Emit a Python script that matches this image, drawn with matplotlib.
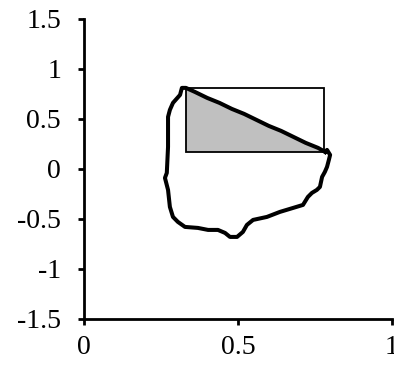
import numpy as np
import matplotlib.pyplot as plt
from matplotlib.patches import Rectangle, Polygon

# outline (closed loop, starts at lower right of the box)
outline_x = [0.783, 0.760, 0.720, 0.680, 0.640, 0.600, 0.560, 0.520, 0.480, 0.440,
             0.400, 0.360, 0.331, 0.318, 0.312, 0.289, 0.279, 0.273, 0.273, 0.269,
             0.263, 0.273, 0.279, 0.289, 0.305, 0.328, 0.370, 0.403, 0.435, 0.458,
             0.474, 0.497, 0.516, 0.529, 0.549, 0.594, 0.636, 0.679, 0.711, 0.727,
             0.740, 0.756, 0.766, 0.773, 0.782, 0.789, 0.795, 0.799, 0.789, 0.783]
outline_y = [0.17, 0.21, 0.26, 0.32, 0.38, 0.43, 0.49, 0.55, 0.60, 0.66,
             0.71, 0.77, 0.81, 0.81, 0.74, 0.66, 0.59, 0.52, 0.22, -0.04,
             -0.09, -0.21, -0.38, -0.48, -0.53, -0.58, -0.59, -0.61, -0.61, -0.64,
             -0.68, -0.68, -0.63, -0.56, -0.51, -0.48, -0.43, -0.39, -0.36, -0.28,
             -0.24, -0.21, -0.18, -0.08, -0.03, 0.02, 0.09, 0.14, 0.19, 0.17]

# bounding box and triangle
box_x0, box_x1 = 0.331, 0.779
box_y0, box_y1 = 0.17, 0.81
tri_x = [box_x0, box_x0, 0.783]
tri_y = [box_y1, box_y0, box_y0]

x_ticks = [0, 0.5, 1]
y_ticks = [-1.5, -1, -0.5, 0, 0.5, 1, 1.5]

plt.rcParams['font.family'] = ['Liberation Serif', 'DejaVu Serif']

fig = plt.figure(figsize=(3.94, 3.70), dpi=100)
ax = fig.add_axes([0.213, 0.138, 0.782, 0.811])

ax.add_patch(Polygon(np.column_stack([tri_x, tri_y]), closed=True,
                     facecolor='#c0c0c0', edgecolor='none'))
ax.add_patch(Rectangle((box_x0, box_y0), box_x1 - box_x0, box_y1 - box_y0,
                       fill=False, edgecolor='black', linewidth=1.3))
ax.plot(outline_x, outline_y, color='black', linewidth=2.9, solid_joinstyle='round')

ax.set_xlim(0, 1)
ax.set_ylim(-1.5, 1.5)
ax.set_xticks(x_ticks)
ax.set_xticklabels(['0', '0.5', '1'])
ax.set_yticks(y_ticks)
ax.set_yticklabels(['-1.5', '-1', '-0.5', '0', '0.5', '1', '1.5'])

for side in ['top', 'right']:
    ax.spines[side].set_visible(False)
for side in ['left', 'bottom']:
    ax.spines[side].set_linewidth(2.0)
ax.tick_params(axis='both', direction='out', length=4.5, width=2.0, labelsize=20)
ax.tick_params(axis='y', pad=12)
ax.tick_params(axis='x', pad=7)

fig.savefig('out.png', dpi=100)
